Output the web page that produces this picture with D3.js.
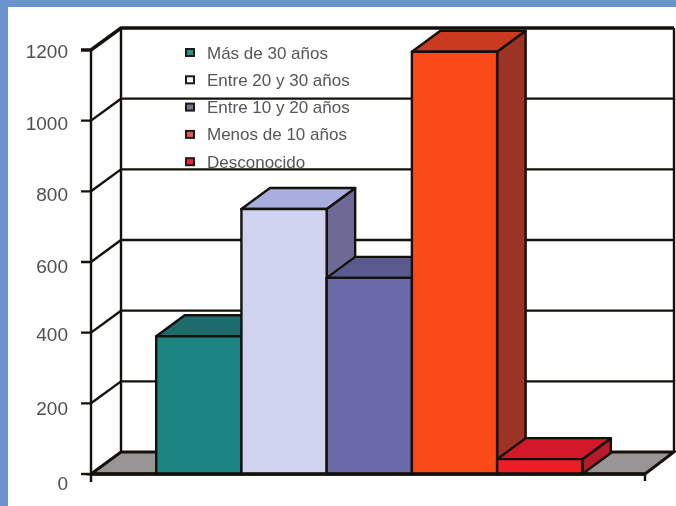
<!DOCTYPE html>
<html>
<head>
<meta charset="utf-8">
<style>
    html, body { margin: 0; padding: 0; background: #6b94cc; overflow: hidden; }
    svg { display: block; filter: blur(0.4px); }
    text { font-family: "Liberation Sans", Arial, sans-serif; }
</style>
<script src="https://cdn.jsdelivr.net/npm/d3@7"></script>
</head>
<body>
<svg id="main"></svg>
<script>
const categories = ["Más de 30 años", "Entre 20 y 30 años", "Entre 10 y 20 años", "Menos de 10 años", "Desconocido"]
const values = [390, 750, 555, 1195, 42]
const tickValues = [0, 200, 400, 600, 800, 1000, 1200]

const frontColors = ["#1c8481", "#cfd3ef", "#6a6aa8", "#fb4a1a", "#ee1c25"]
const topColors = ["#1b6c6a", "#a9aede", "#5a5a8e", "#c93a20", "#d3182a"]
const sideColors = ["#175b5a", "#6e6a96", "#4e4e7c", "#9c3325", "#b81a2b"]
const swatchColors = ["#2f8f8c", "#f4f5ff", "#77778f", "#e8585a", "#ee2440"]

const width = 676
const height = 506
const margin = {left: 91, right: 645, base: 474, top: 50}
const wall = {dx: 30, dy: -22, right: 674}
const depth = {dx: 28.5, dy: -21}
const ink = "#14110c"

const svg = d3.select("#main").attr("width", width).attr("height", height)

const y = d3.scaleLinear().domain([0, 1200]).range([margin.base, margin.top])
// the labels do not sit evenly next to their ticks in the original
const labelY = d3.scaleLinear().domain(tickValues).range([483, 408, 334, 266, 194, 123, 51])
const x = d3.scaleBand().domain(categories).range([margin.left, margin.right])
    .paddingInner(0).paddingOuter(0.75).align(0.51)

const line = d3.line()

// paper
svg.append("rect").attr("x", 8).attr("y", 7).attr("width", width).attr("height", height).attr("fill", "#fdfefd")

// legend goes under the grid, the lines cross the text in the original
const legend = svg.append("g").selectAll("g").data(categories).join("g")
    .attr("transform", (d, i) => `translate(0,${d3.scaleLinear([0, 4], [52.5, 161.7])(i)})`)
legend.append("rect")
    .attr("x", 186).attr("y", -3.5).attr("width", 8).attr("height", 7)
    .attr("fill", (d, i) => swatchColors[i])
    .attr("stroke", "#1c1c18").attr("stroke-width", 2)
legend.append("text")
    .attr("x", 207).attr("y", 6)
    .attr("font-size", 17).attr("fill", "#55565a")
    .text(d => d)

// floor
svg.append("path")
    .attr("d", line([[margin.left, margin.base], [margin.left + wall.dx, margin.base + wall.dy],
        [wall.right, margin.base + wall.dy], [margin.right, margin.base]]) + "Z")
    .attr("fill", "#999596").attr("stroke", ink).attr("stroke-width", 3)

// grid on back and side wall
const grid = svg.append("g").attr("fill", "none").attr("stroke", ink)
grid.selectAll("path").data(tickValues.slice(1)).join("path")
    .attr("stroke-width", d => d === 1200 ? 3.5 : 2.4)
    .attr("d", d => line([[margin.left - 10, y(d)], [margin.left, y(d)],
        [margin.left + wall.dx, y(d) + wall.dy], [wall.right, y(d) + wall.dy]]))
grid.append("path").attr("stroke-width", 2.4)
    .attr("d", line([[margin.left + wall.dx, y(1200) + wall.dy], [margin.left + wall.dx, margin.base + wall.dy]]))
grid.append("path").attr("stroke-width", 2.4)
    .attr("d", line([[wall.right, y(1200) + wall.dy], [wall.right, margin.base + wall.dy]]))
grid.append("path").attr("stroke-width", 2.4)
    .attr("d", line([[margin.left, y(1200)], [margin.left, margin.base + 8]]))
grid.append("path").attr("stroke-width", 2.4)
    .attr("d", line([[margin.left - 10, margin.base], [margin.left, margin.base]]))
grid.append("path").attr("stroke-width", 2.4)
    .attr("d", line([[margin.right, margin.base], [margin.right, margin.base + 7]]))

// bars
const bars = svg.append("g").selectAll("g").data(categories).join("g")
    .attr("stroke", ink).attr("stroke-width", 2.4).attr("stroke-linejoin", "round")

bars.append("path")
    .attr("fill", (d, i) => sideColors[i])
    .attr("d", (d, i) => {
        const x1 = x(d) + x.bandwidth(), t = y(values[i]), b = y(0)
        return line([[x1, b], [x1, t], [x1 + depth.dx, t + depth.dy], [x1 + depth.dx, b + depth.dy]]) + "Z"
    })
bars.append("path")
    .attr("fill", (d, i) => topColors[i])
    .attr("d", (d, i) => {
        const x0 = x(d), x1 = x0 + x.bandwidth(), t = y(values[i])
        return line([[x0, t], [x1, t], [x1 + depth.dx, t + depth.dy], [x0 + depth.dx, t + depth.dy]]) + "Z"
    })
bars.append("rect")
    .attr("x", d => x(d))
    .attr("y", (d, i) => y(values[i]))
    .attr("width", x.bandwidth())
    .attr("height", (d, i) => y(0) - y(values[i]))
    .attr("fill", (d, i) => frontColors[i])

// front edge of the floor stays over the bars
svg.append("path").attr("fill", "none").attr("stroke", ink).attr("stroke-width", 3.5)
    .attr("d", line([[margin.left, margin.base], [margin.right, margin.base]]))

// tick labels
svg.append("g").selectAll("text").data(tickValues).join("text")
    .attr("x", 68)
    .attr("y", d => labelY(d))
    .attr("dy", "0.35em")
    .attr("text-anchor", "end")
    .attr("font-size", 19)
    .attr("fill", "#4e4f50")
    .text(d => d)
</script>
</body>
</html>
